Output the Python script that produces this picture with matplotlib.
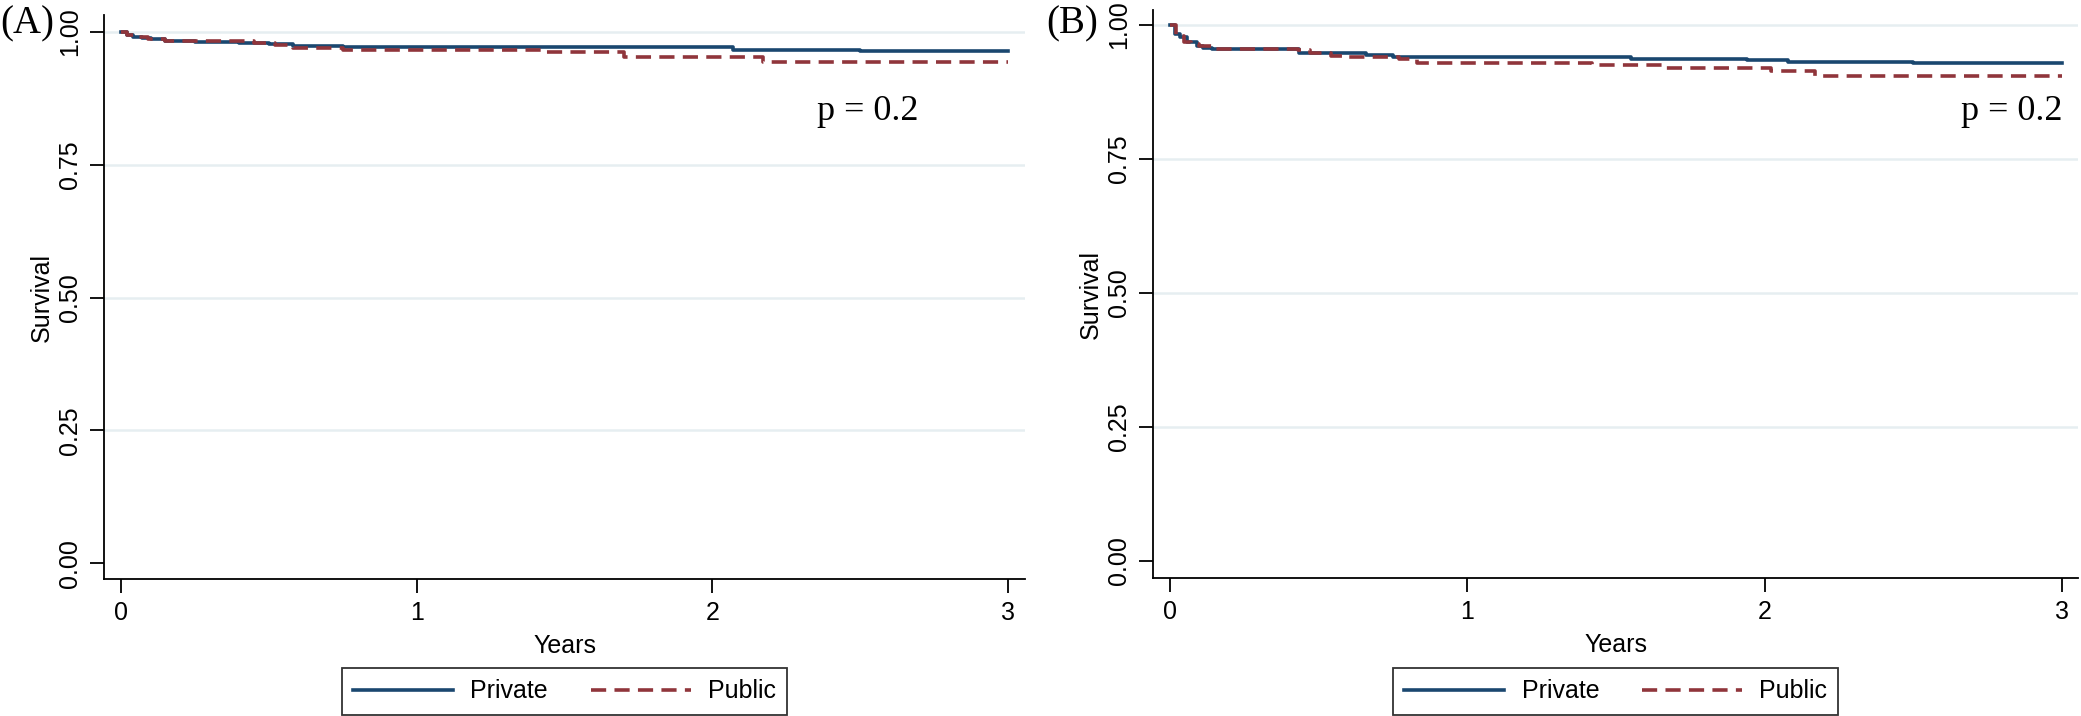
import numpy as np
import matplotlib
matplotlib.use("Agg")
import matplotlib.pyplot as plt

# Kaplan-Meier steps (years, survival)
a_private_t = [0, 0.02, 0.04, 0.07, 0.10, 0.15, 0.25, 0.40, 0.50, 0.58, 0.75, 2.07, 2.50, 3.0]
a_private_s = [1.0, 0.995, 0.991, 0.988, 0.986, 0.984, 0.982, 0.980, 0.977, 0.973, 0.971, 0.967, 0.964, 0.964]
a_public_t = [0, 0.02, 0.05, 0.09, 0.15, 0.30, 0.45, 0.52, 0.58, 0.75, 1.43, 1.70, 2.17, 3.0]
a_public_s = [1.0, 0.995, 0.990, 0.987, 0.984, 0.983, 0.980, 0.975, 0.970, 0.967, 0.962, 0.953, 0.944, 0.944]

b_private_t = [0, 0.017, 0.034, 0.056, 0.09, 0.11, 0.14, 0.30, 0.435, 0.52, 0.66, 0.75, 1.14, 1.55, 1.94, 2.08, 2.50, 3.0]
b_private_s = [1.0, 0.984, 0.978, 0.969, 0.961, 0.957, 0.956, 0.955, 0.948, 0.947, 0.944, 0.941, 0.940, 0.937, 0.934, 0.931, 0.929, 0.929]
b_public_t = [0, 0.02, 0.047, 0.07, 0.097, 0.14, 0.43, 0.47, 0.54, 0.60, 0.77, 0.83, 1.42, 1.66, 2.02, 2.17, 3.0]
b_public_s = [1.0, 0.980, 0.969, 0.965, 0.960, 0.955, 0.953, 0.947, 0.942, 0.940, 0.936, 0.930, 0.925, 0.919, 0.914, 0.905, 0.905]

panel_labels = ["(A)", "(B)"]
p_text = "p = 0.2"
yticks = [0, 0.25, 0.5, 0.75, 1.0]
ytick_labels = ["0.00", "0.25", "0.50", "0.75", "1.00"]
xticks = [0, 1, 2, 3]

navy = "#1a476f"
maroon = "#90353b"
gridc = "#e6eef1"
sans = "Liberation Sans"
serif = "Liberation Serif"
fs = 18

fig = plt.figure(figsize=(20.81, 7.16), dpi=100)

def km_panel(rect, ylim, xlim, priv, pub, ptxt_xy, ptxt_ha):
    ax = fig.add_axes(rect)
    ax.step(priv[0], priv[1], where="post", color=navy, lw=2.6, label="Private", zorder=3)
    ax.step(pub[0], pub[1], where="post", color=maroon, lw=2.6, dashes=(4.2, 2.3),
            label="Public", zorder=4)
    ax.set_xlim(*xlim)
    ax.set_ylim(*ylim)
    ax.set_yticks(yticks)
    ax.set_yticklabels(ytick_labels, rotation=90, va="center", family=sans, fontsize=fs)
    ax.set_xticks(xticks)
    ax.set_xticklabels([str(x) for x in xticks], family=sans, fontsize=fs)
    for y in yticks[1:]:
        ax.axhline(y, color=gridc, lw=1.8, zorder=1)
    for s in ["top", "right"]:
        ax.spines[s].set_visible(False)
    for s in ["left", "bottom"]:
        ax.spines[s].set_linewidth(1.3)
    ax.tick_params(length=10, width=1.3, pad=6)
    ax.set_xlabel("Years", family=sans, fontsize=fs, labelpad=6)
    ax.set_ylabel("Survival", family=sans, fontsize=fs, labelpad=3)
    ax.text(ptxt_xy[0], ptxt_xy[1], p_text, family=serif, fontsize=26, ha=ptxt_ha, va="baseline")

    # legend box sits below the axis, centred on the plot region
    cx = rect[0] + rect[2] / 2
    leg = ax.legend(loc="upper center", bbox_to_anchor=(cx, 1 - 668 / 716),
                    bbox_transform=fig.transFigure, borderaxespad=0, ncol=2, frameon=True,
                    fancybox=False, edgecolor="black", prop={"family": sans, "size": fs},
                    handlelength=4.0, columnspacing=1.7, borderpad=0.45, handletextpad=0.7)
    leg.get_frame().set_linewidth(1.3)
    return ax

axA = km_panel([0.04998, 0.1913, 0.4426, 0.7877], (-0.030, 1.032), (-0.0575, 3.0575),
               (a_private_t, a_private_s), (a_public_t, a_public_s), (2.354, 0.834), "left")
axB = km_panel([0.5541, 0.1927, 0.4445, 0.7933], (-0.0317, 1.028), (-0.057, 3.054),
               (b_private_t, b_private_s), (b_public_t, b_public_s), (3.0, 0.823), "right")

fig.text(0.0, 1 - 33 / 716, panel_labels[0], family=serif, fontsize=28, va="baseline", ha="left")
fig.text(1046 / 2081, 1 - 33 / 716, panel_labels[1], family=serif, fontsize=28, va="baseline", ha="left")

fig.savefig("out.png", dpi=100)
